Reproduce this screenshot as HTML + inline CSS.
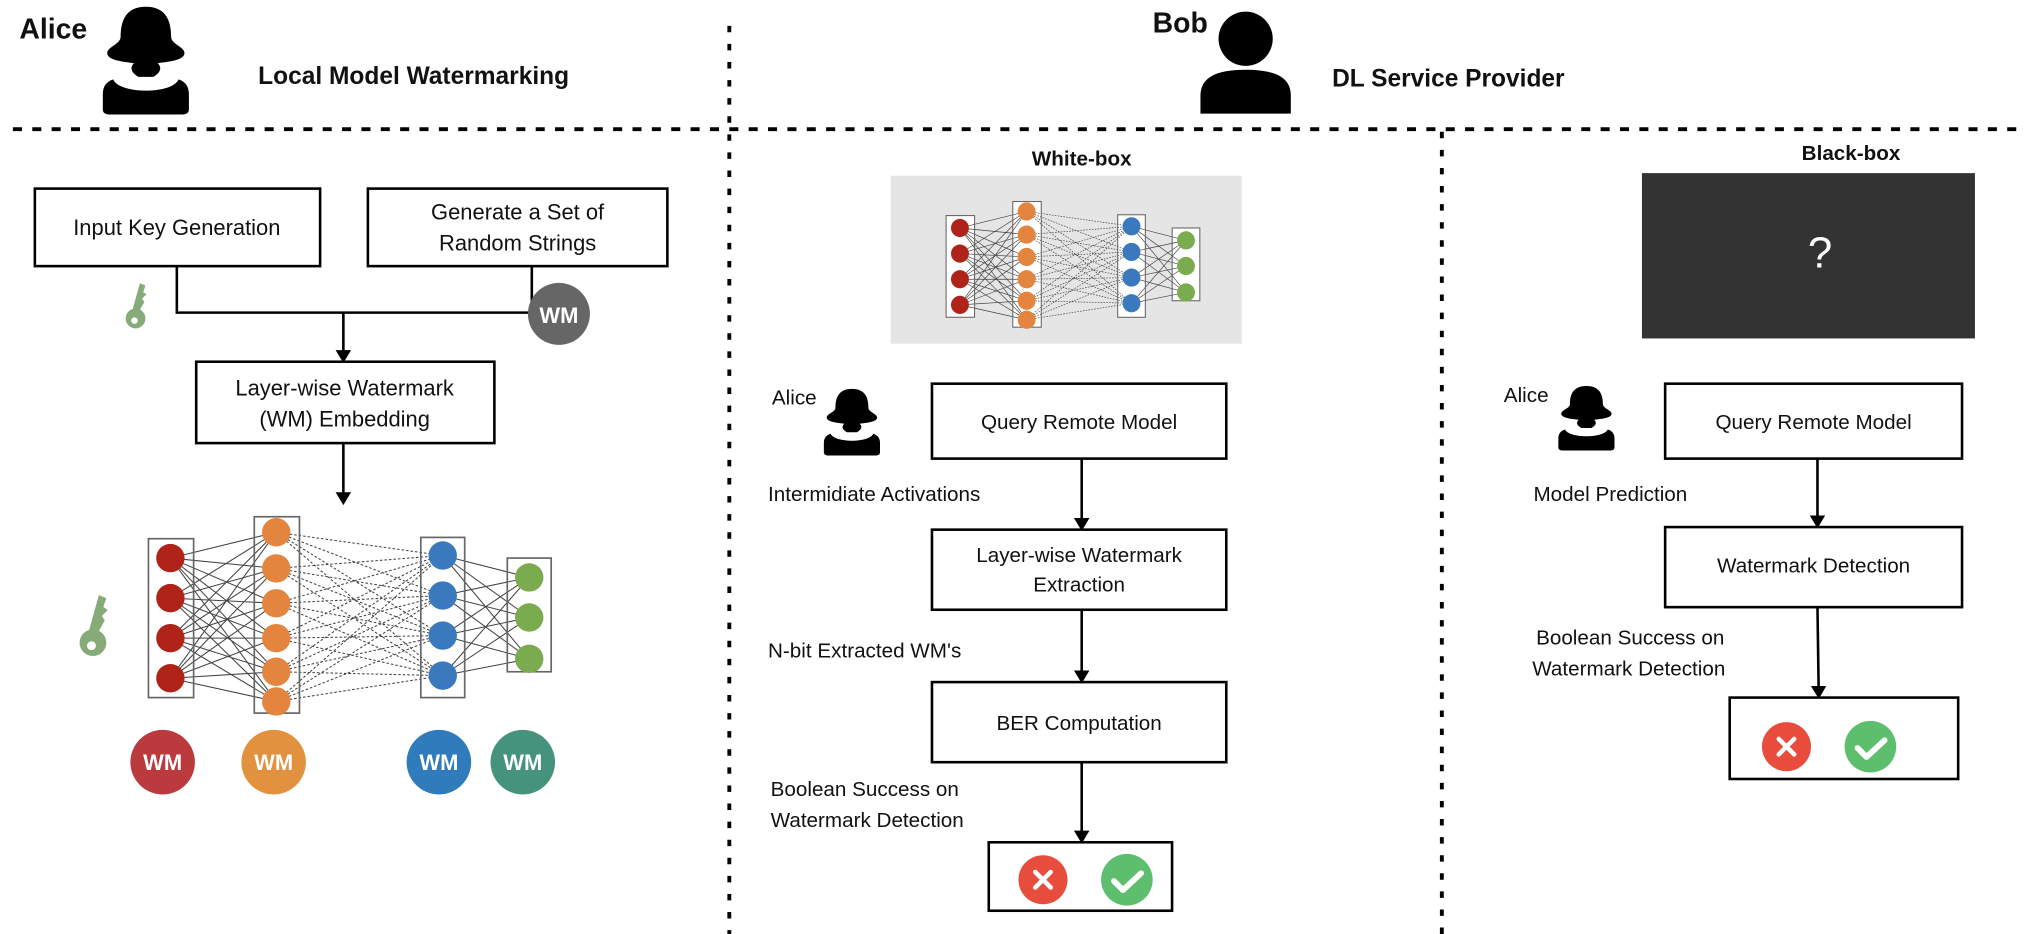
<!DOCTYPE html>
<html><head><meta charset="utf-8"><style>
html,body{margin:0;padding:0;background:#fff;}
svg{display:block;}
text{font-family:"Liberation Sans",sans-serif;fill:#111;}
</style></head><body>
<svg width="2024" height="934" viewBox="0 0 1568 723" preserveAspectRatio="none" xmlns="http://www.w3.org/2000/svg">
<defs>
<g id="alice">
 <path d="M0,-40 C-14,-40 -17,-28 -17,-16 C-17,-10 -26,-8 -26,-3 C-26,3 -14,4 -8,5 C-12,10 -8,14 -5,16 L5,16 C8,14 12,10 8,5 C14,4 26,3 26,-3 C26,-8 17,-10 17,-16 C17,-28 14,-40 0,-40Z" fill="#000"/>
 <path d="M-22,18 C-27,20 -29,24 -29,30 L-29,42 C-29,45 -27,46 -24,46 L24,46 C27,46 29,45 29,42 L29,30 C29,24 27,20 22,18 C18,30 -18,30 -22,18Z" fill="#000"/>
</g>
<g id="nn">
 <g stroke="#222" stroke-width="0.8" fill="none" opacity="0.85">
 <path d="M132 432L214 412M132 432L214 440M132 432L214 467M132 432L214 494M132 432L214 520M132 432L214 543M132 463L214 412M132 463L214 440M132 463L214 467M132 463L214 494M132 463L214 520M132 463L214 543M132 494L214 412M132 494L214 440M132 494L214 467M132 494L214 494M132 494L214 520M132 494L214 543M132 525L214 412M132 525L214 440M132 525L214 467M132 525L214 494M132 525L214 520M132 525L214 543"/>
 <path stroke-dasharray="2 1.5" d="M214 412L343 430M214 412L343 461M214 412L343 492M214 412L343 523M214 440L343 430M214 440L343 461M214 440L343 492M214 440L343 523M214 467L343 430M214 467L343 461M214 467L343 492M214 467L343 523M214 494L343 430M214 494L343 461M214 494L343 492M214 494L343 523M214 520L343 430M214 520L343 461M214 520L343 492M214 520L343 523M214 543L343 430M214 543L343 461M214 543L343 492M214 543L343 523"/>
 <path d="M343 430L410 447M343 430L410 478M343 430L410 510M343 461L410 447M343 461L410 478M343 461L410 510M343 492L410 447M343 492L410 478M343 492L410 510M343 523L410 447M343 523L410 478M343 523L410 510"/>
 </g>
 <g fill="none" stroke="#666" stroke-width="1.3">
 <rect x="115" y="417" width="35" height="123"/>
 <rect x="197" y="400" width="35" height="152"/>
 <rect x="326" y="416" width="34" height="124"/>
 <rect x="393" y="432" width="34" height="88"/>
 </g>
 <g fill="#b02318"><circle cx="132" cy="432" r="11"/><circle cx="132" cy="463" r="11"/><circle cx="132" cy="494" r="11"/><circle cx="132" cy="525" r="11"/></g>
 <g fill="#e3843f"><circle cx="214" cy="412" r="11"/><circle cx="214" cy="440" r="11"/><circle cx="214" cy="467" r="11"/><circle cx="214" cy="494" r="11"/><circle cx="214" cy="520" r="11"/><circle cx="214" cy="543" r="11"/></g>
 <g fill="#3b79bf"><circle cx="343" cy="430" r="11"/><circle cx="343" cy="461" r="11"/><circle cx="343" cy="492" r="11"/><circle cx="343" cy="523" r="11"/></g>
 <g fill="#7aab4f"><circle cx="410" cy="447" r="11"/><circle cx="410" cy="478" r="11"/><circle cx="410" cy="510" r="11"/></g>
</g>
<g id="key">
 <circle cx="0" cy="10" r="9" fill="#86ab78"/>
 <circle cx="-1" cy="12" r="3" fill="#fff"/>
 <path d="M-3,3 L4,-22 L9,-20 L7,-14 L10,-12 L6,-8 L8,-5 L3,4Z" fill="#86ab78"/>
</g>
<marker id="ar" markerWidth="10" markerHeight="12" refX="8" refY="6" orient="auto" markerUnits="userSpaceOnUse">
 <path d="M0,0 L10,6 L0,12Z" fill="#000"/>
</marker>
<g id="res">
 <circle cx="0" cy="0" r="19" fill="#e74c3c"/>
 <path d="M-6,-6 L6,6 M6,-6 L-6,6" stroke="#fff" stroke-width="3.5" stroke-linecap="round"/>
 <circle cx="65" cy="0" r="20" fill="#5dbf6e"/>
 <path d="M55,1 L62,8 L76,-5" stroke="#fff" stroke-width="4.5" fill="none" stroke-linecap="round" stroke-linejoin="round"/>
</g>
</defs>

<!-- dotted separators -->
<g stroke="#000" fill="none">
 <line x1="10" y1="100" x2="1562" y2="100" stroke-width="3" stroke-dasharray="7 8"/>
 <line x1="565" y1="20" x2="565" y2="723" stroke-width="3" stroke-dasharray="5 9"/>
 <line x1="1117" y1="102" x2="1117" y2="723" stroke-width="3" stroke-dasharray="5 9"/>
</g>

<!-- header -->
<text x="15" y="30" font-size="22" font-weight="bold">Alice</text>
<use href="#alice" transform="translate(113,44) scale(1.15,0.97)"/>
<text x="200" y="65" font-size="19" font-weight="bold">Local Model Watermarking</text>
<text x="893" y="25" font-size="22" font-weight="bold">Bob</text>
<circle cx="965" cy="30" r="21" fill="#000"/>
<path d="M930,88 L930,74 C930,60 942,54 965,54 C988,54 1000,60 1000,74 L1000,88Z" fill="#000"/>
<text x="1032" y="67" font-size="19" font-weight="bold">DL Service Provider</text>

<!-- left section -->
<g fill="#fff" stroke="#000" stroke-width="2">
 <rect x="27" y="146" width="221" height="60"/>
 <rect x="285" y="146" width="232" height="60"/>
 <rect x="152" y="280" width="231" height="63"/>
</g>
<g font-size="17" text-anchor="middle">
 <text x="137" y="182">Input Key Generation</text>
 <text x="401" y="170">Generate a Set of</text>
 <text x="401" y="194">Random Strings</text>
 <text x="267" y="306">Layer-wise Watermark</text>
 <text x="267" y="330">(WM) Embedding</text>
</g>
<g stroke="#000" stroke-width="2" fill="none">
 <path d="M137,206 V242 H412 V206"/>
 <line x1="266" y1="242" x2="266" y2="279" marker-end="url(#ar)"/>
 <line x1="266" y1="343" x2="266" y2="389" marker-end="url(#ar)"/>
</g>
<use href="#key" transform="translate(105,238) scale(0.85)"/>
<circle cx="433" cy="243" r="24" fill="#666"/>
<text x="433" y="250" font-size="17" font-weight="bold" text-anchor="middle" style="fill:#fff">WM</text>
<use href="#nn"/>
<use href="#key" transform="translate(72,486) scale(1.15)"/>
<g font-size="17" font-weight="bold" text-anchor="middle" style="fill:#fff">
 <circle cx="126" cy="590" r="25" fill="#bb3a3e"/><text x="126" y="596" style="fill:#fff">WM</text>
 <circle cx="212" cy="590" r="25" fill="#e2923f"/><text x="212" y="596" style="fill:#fff">WM</text>
 <circle cx="340" cy="590" r="25" fill="#2f7bbb"/><text x="340" y="596" style="fill:#fff">WM</text>
 <circle cx="405" cy="590" r="25" fill="#45937c"/><text x="405" y="596" style="fill:#fff">WM</text>
</g>

<!-- white-box -->
<text x="838" y="128" font-size="16" font-weight="bold" text-anchor="middle">White-box</text>
<rect x="690" y="136" width="272" height="130" fill="#e5e5e5"/>
<g transform="translate(660.5,-100) scale(0.63,0.64)">
 <g fill="#fff"><rect x="115" y="417" width="35" height="123"/><rect x="197" y="400" width="35" height="152"/><rect x="326" y="416" width="34" height="124"/><rect x="393" y="432" width="34" height="88"/></g>
 <use href="#nn"/>
</g>
<text x="598" y="313" font-size="16">Alice</text>
<use href="#alice" transform="translate(660,325) scale(0.75,0.6)"/>
<g fill="#fff" stroke="#000" stroke-width="2">
 <rect x="722" y="297" width="228" height="58"/>
 <rect x="722" y="410" width="228" height="62"/>
 <rect x="722" y="528" width="228" height="62"/>
 <rect x="766" y="652" width="142" height="53"/>
</g>
<g font-size="16" text-anchor="middle">
 <text x="836" y="332">Query Remote Model</text>
 <text x="836" y="435">Layer-wise Watermark</text>
 <text x="836" y="458">Extraction</text>
 <text x="836" y="565">BER Computation</text>
</g>
<g font-size="16">
 <text x="595" y="388">Intermidiate Activations</text>
 <text x="595" y="509">N-bit Extracted WM's</text>
 <text x="597" y="616">Boolean Success on</text>
 <text x="597" y="640">Watermark Detection</text>
</g>
<g stroke="#000" stroke-width="2">
 <line x1="838" y1="355" x2="838" y2="409" marker-end="url(#ar)"/>
 <line x1="838" y1="472" x2="838" y2="527" marker-end="url(#ar)"/>
 <line x1="838" y1="590" x2="838" y2="651" marker-end="url(#ar)"/>
</g>
<use href="#res" transform="translate(808,681)"/>

<!-- black-box -->
<text x="1434" y="124" font-size="16" font-weight="bold" text-anchor="middle">Black-box</text>
<rect x="1272" y="134" width="258" height="128" fill="#333"/>
<text x="1410" y="207" font-size="34" text-anchor="middle" style="fill:#fff">?</text>
<text x="1165" y="311" font-size="16">Alice</text>
<use href="#alice" transform="translate(1229,322) scale(0.75,0.58)"/>
<g fill="#fff" stroke="#000" stroke-width="2">
 <rect x="1290" y="297" width="230" height="58"/>
 <rect x="1290" y="408" width="230" height="62"/>
 <rect x="1340" y="540" width="177" height="63"/>
</g>
<g font-size="16" text-anchor="middle">
 <text x="1405" y="332">Query Remote Model</text>
 <text x="1405" y="443">Watermark Detection</text>
</g>
<g font-size="16">
 <text x="1188" y="388">Model Prediction</text>
 <text x="1190" y="499">Boolean Success on</text>
 <text x="1187" y="523">Watermark Detection</text>
</g>
<g stroke="#000" stroke-width="2">
 <line x1="1408" y1="355" x2="1408" y2="407" marker-end="url(#ar)"/>
 <line x1="1408" y1="470" x2="1409" y2="539" marker-end="url(#ar)"/>
</g>
<use href="#res" transform="translate(1384,578)"/>
</svg>
</body></html>
